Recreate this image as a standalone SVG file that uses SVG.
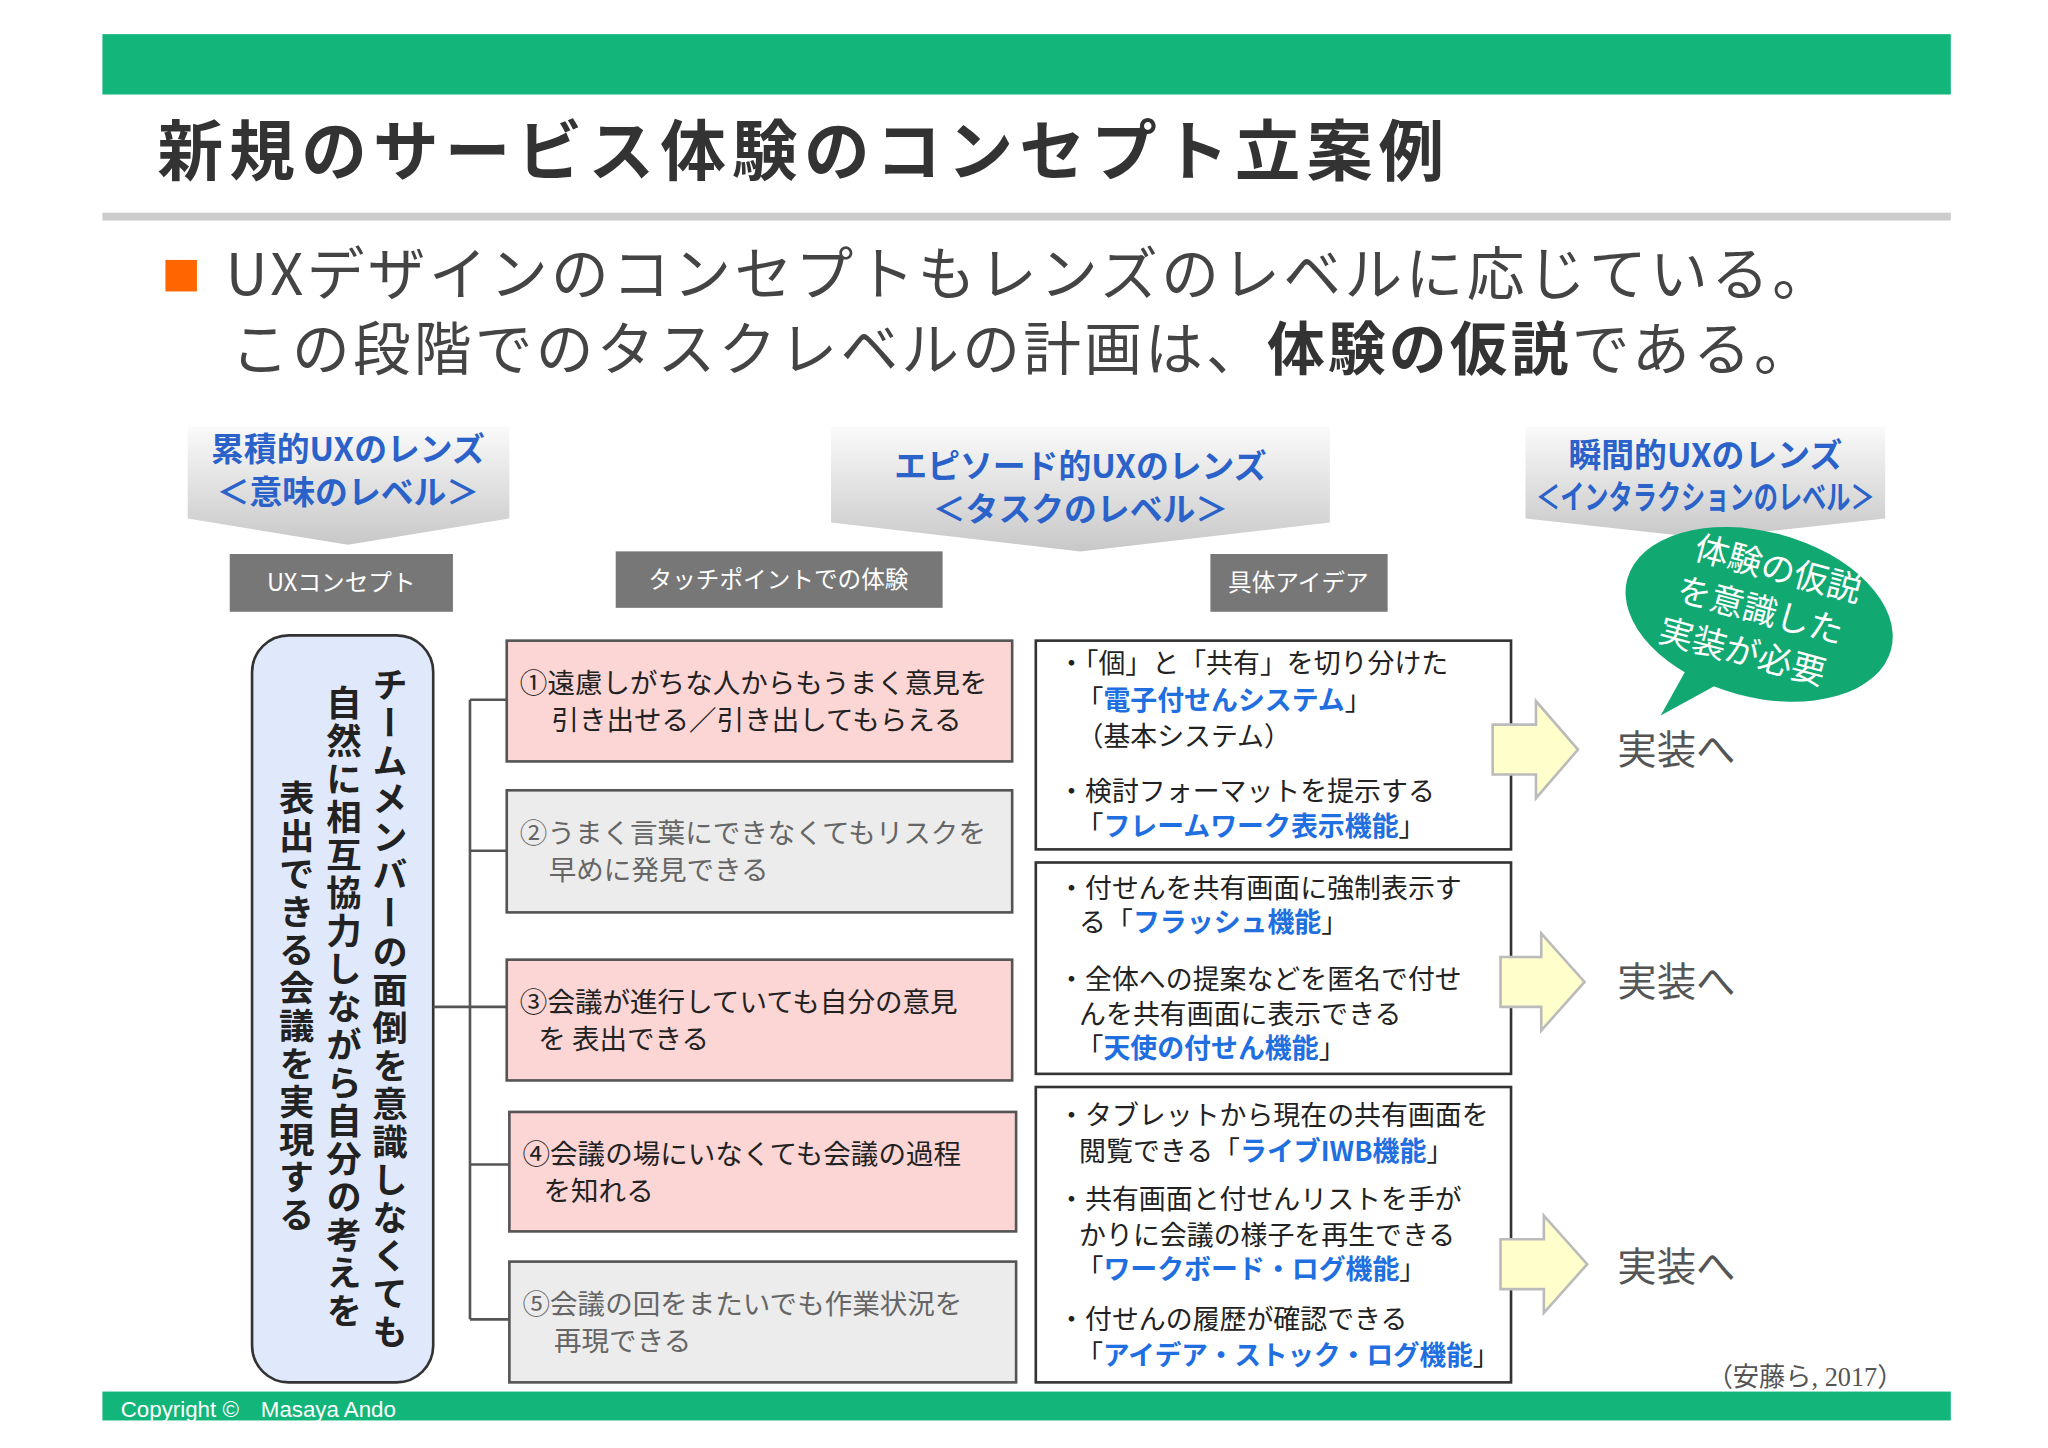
<svg xmlns="http://www.w3.org/2000/svg" width="2048" height="1448" viewBox="0 0 2048 1448">
<defs>
<linearGradient id="hg" x1="0" y1="0" x2="0" y2="1"><stop offset="0" stop-color="#fafafa"/><stop offset="1" stop-color="#c8c8c8"/></linearGradient>
<style>
text{font-family:"Noto Sans CJK JP","Noto Sans",sans-serif}
.hd{fill:#2a62c9;font-weight:bold;font-size:25px;text-anchor:middle}
.lb{fill:#fff;font-size:18px;text-anchor:middle}
.lbr{fill:#777}
.pk{fill:#fcd5d5;stroke:#555;stroke-width:2}
.gy{fill:#ececec;stroke:#555;stroke-width:2}
.wb{fill:#fff;stroke:#333;stroke-width:2}
.t1{font-size:21px;fill:#222}
.t2{font-size:21px;fill:#666}
.t3{font-size:20.5px;fill:#222}
.bl{fill:#1f6fe0;font-weight:bold}
.ar{fill:#ffffcc;stroke:#bbb;stroke-width:2}
.im{font-size:30px;fill:#555}
.vt{writing-mode:tb;font-size:27px;font-weight:bold;fill:#222}
</style>
</defs>
<rect width="2048" height="1448" fill="#fff"/>
<g transform="scale(1.3128)">
<rect x="78" y="26" width="1408" height="46" fill="#12b67a"/>
<text x="120" y="133" font-size="50" font-weight="bold" fill="#333" textLength="980" lengthAdjust="spacing">新規のサービス体験のコンセプト立案例</text>
<rect x="78" y="162" width="1408" height="6" fill="#ccc"/>
<rect x="126" y="198" width="24" height="24" fill="#ff6600"/>
<text x="172" y="225" font-size="44" fill="#444" textLength="1222" lengthAdjust="spacing">UXデザインのコンセプトもレンズのレベルに応じている。</text>
<text x="176" y="282" font-size="44" fill="#444" textLength="1204" lengthAdjust="spacing">この段階でのタスクレベルの計画は、<tspan font-weight="bold" fill="#333">体験の仮説</tspan>である。</text>

<g id="h1"><path d="M143 325H388V395L265 415L143 395Z" fill="url(#hg)"/><text class="hd" x="265" y="351">累積的UXのレンズ</text><text class="hd" x="265" y="384">＜意味のレベル＞</text></g>
<g id="h2"><path d="M633 325H1013V398L823 420L633 398Z" fill="url(#hg)"/><text class="hd" x="823" y="364">エピソード的UXのレンズ</text><text class="hd" x="823" y="397">＜タスクのレベル＞</text></g>
<g id="h3"><path d="M1162 325H1436V395L1299 410L1162 395Z" fill="url(#hg)"/><text class="hd" x="1299" y="356">瞬間的UXのレンズ</text><text class="hd" x="1299" y="388" textLength="258" lengthAdjust="spacingAndGlyphs">＜インタラクションのレベル＞</text></g>

<g id="l1"><rect class="lbr" x="175" y="422" width="170" height="44"/><text class="lb" x="260" y="450">UXコンセプト</text></g>
<g id="l2"><rect class="lbr" x="469" y="420" width="249" height="43"/><text class="lb" x="593" y="448">タッチポイントでの体験</text></g>
<g id="l3"><rect class="lbr" x="922" y="422" width="135" height="44"/><text class="lb" x="989" y="450">具体アイデア</text></g>

<g id="bubble">
<path d="M1265 545L1290 500L1320 515Z" fill="#12a872"/>
<ellipse cx="1340" cy="468" rx="104" ry="63" transform="rotate(15 1340 468)" fill="#12a872"/>
<g transform="rotate(15 1340 468)" font-size="26" text-anchor="middle"><text x="1345" y="440" fill="#fff">体験の仮説</text><text x="1340" y="474" fill="#fff">を意識した</text><text x="1335" y="508" fill="#fff">実装が必要</text></g>
</g>

<g id="concept">
<rect x="192" y="484" width="138" height="569" rx="28" fill="#dfe9fb" stroke="#333" stroke-width="2"/>
<text class="vt" x="297" y="508" textLength="520" lengthAdjust="spacing">チームメンバーの面倒を意識しなくても</text>
<text class="vt" x="262" y="522" textLength="490" lengthAdjust="spacing">自然に相互協力しながら自分の考えを</text>
<text class="vt" x="226" y="594" textLength="345" lengthAdjust="spacing">表出できる会議を実現する</text>
</g>

<g id="connectors" stroke="#555" stroke-width="2" fill="none">
<path d="M330 767H358M358 533V1005M358 533H386M358 648H386M358 767H386M358 887H388M358 1005H388"/>
</g>

<g id="b1"><rect class="pk" x="386" y="488" width="385" height="92"/><text class="t1" x="396" y="528">①遠慮しがちな人からもうまく意見を</text><text class="t1" x="420" y="556">引き出せる／引き出してもらえる</text></g>
<g id="b2"><rect class="gy" x="386" y="602" width="385" height="93"/><text class="t2" x="396" y="642">②うまく言葉にできなくてもリスクを</text><text class="t2" x="418" y="670">早めに発見できる</text></g>
<g id="b3"><rect class="pk" x="386" y="731" width="385" height="92"/><text class="t1" x="396" y="771">③会議が進行していても自分の意見</text><text class="t1" x="410" y="799">を 表出できる</text></g>
<g id="b4"><rect class="pk" x="388" y="847" width="386" height="91"/><text class="t1" x="398" y="887">④会議の場にいなくても会議の過程</text><text class="t1" x="414" y="915">を知れる</text></g>
<g id="b5"><rect class="gy" x="388" y="961" width="386" height="92"/><text class="t2" x="398" y="1001">⑤会議の回をまたいでも作業状況を</text><text class="t2" x="422" y="1029">再現できる</text></g>

<g id="ia"><rect class="wb" x="789" y="488" width="362" height="159"/>
<text class="t3" x="806" y="513">・「個」と「共有」を切り分けた</text>
<text class="t3" x="820" y="541">「<tspan class="bl">電子付せんシステム</tspan>」</text>
<text class="t3" x="820" y="568">（基本システム）</text>
<text class="t3" x="806" y="610">・検討フォーマットを提示する</text>
<text class="t3" x="820" y="637">「<tspan class="bl">フレームワーク表示機能</tspan>」</text></g>
<g id="ib"><rect class="wb" x="789" y="657" width="362" height="161"/>
<text class="t3" x="806" y="684">・付せんを共有画面に強制表示す</text>
<text class="t3" x="822" y="710">る「<tspan class="bl">フラッシュ機能</tspan>」</text>
<text class="t3" x="806" y="753">・全体への提案などを匿名で付せ</text>
<text class="t3" x="822" y="780">んを共有画面に表示できる</text>
<text class="t3" x="820" y="806">「<tspan class="bl">天使の付せん機能</tspan>」</text></g>
<g id="ic"><rect class="wb" x="789" y="828" width="362" height="225"/>
<text class="t3" x="806" y="857">・タブレットから現在の共有画面を</text>
<text class="t3" x="822" y="884">閲覧できる「<tspan class="bl">ライブIWB機能</tspan>」</text>
<text class="t3" x="806" y="921">・共有画面と付せんリストを手が</text>
<text class="t3" x="822" y="948">かりに会議の様子を再生できる</text>
<text class="t3" x="820" y="974">「<tspan class="bl">ワークボード・ログ機能</tspan>」</text>
<text class="t3" x="806" y="1012">・付せんの履歴が確認できる</text>
<text class="t3" x="820" y="1040" textLength="322" lengthAdjust="spacingAndGlyphs">「<tspan class="bl">アイデア・ストック・ログ機能</tspan>」</text></g>

<g id="arrows">
<path class="ar" d="M1137 552H1170V534L1202 571L1170 608V590H1137Z"/>
<path class="ar" d="M1143 729H1174V711L1207 748L1174 785V767H1143Z"/>
<path class="ar" d="M1143 944H1176V926L1209 963L1176 1000V982H1143Z"/>
</g>
<text class="im" x="1232" y="582">実装へ</text>
<text class="im" x="1232" y="759">実装へ</text>
<text class="im" x="1232" y="976">実装へ</text>
<text x="1300" y="1056" font-size="20" fill="#555" style="font-family:'Liberation Serif','Noto Sans CJK JP',serif">（安藤ら, 2017）</text>
<rect x="78" y="1060" width="1408" height="22" fill="#12b67a"/>
<text x="92" y="1079" font-size="17" fill="#fff" style="font-family:'Liberation Sans',sans-serif">Copyright ©　Masaya Ando</text>
</g>
</svg>
